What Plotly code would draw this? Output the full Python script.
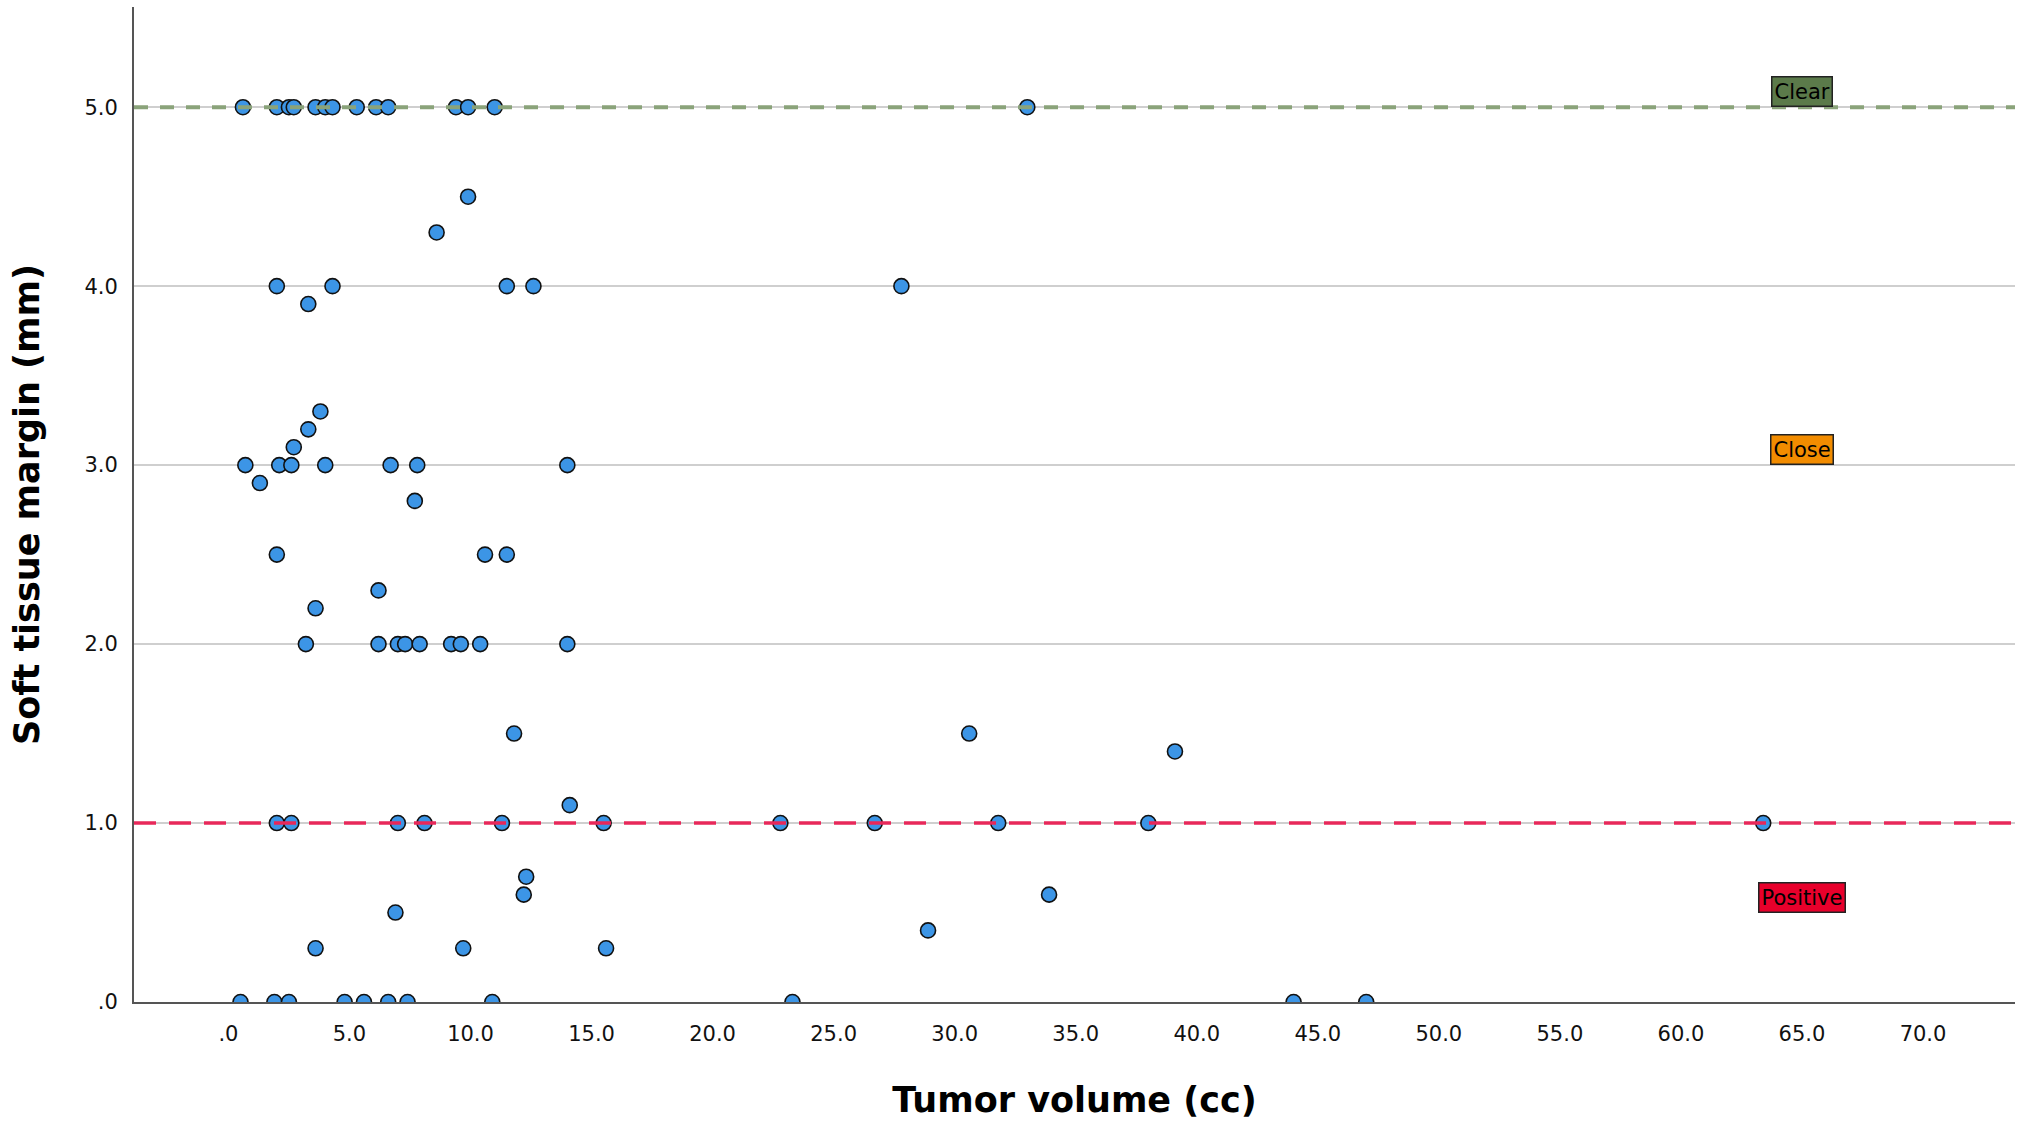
import plotly.graph_objects as go

# ---- data ----
tumor_volume = [
    0.6, 2.0, 2.5, 2.7, 3.6, 4.0, 4.3, 5.3, 6.1, 6.6, 9.4, 9.9, 11.0, 33.0,   # 5.0
    9.9,                                                                      # 4.5
    8.6,                                                                      # 4.3
    2.0, 4.3, 11.5, 12.6, 27.8,                                               # 4.0
    3.3,                                                                      # 3.9
    3.8,                                                                      # 3.3
    3.3,                                                                      # 3.2
    2.7,                                                                      # 3.1
    0.7, 2.1, 2.6, 4.0, 6.7, 7.8, 14.0,                                       # 3.0
    1.3,                                                                      # 2.9
    7.7,                                                                      # 2.8
    2.0, 10.6, 11.5,                                                          # 2.5
    6.2,                                                                      # 2.3
    3.6,                                                                      # 2.2
    3.2, 6.2, 7.0, 7.3, 7.9, 9.2, 9.6, 10.4, 14.0,                            # 2.0
    11.8, 30.6,                                                               # 1.5
    39.1,                                                                     # 1.4
    14.1,                                                                     # 1.1
    2.0, 2.6, 7.0, 8.1, 11.3, 15.5, 22.8, 26.7, 31.8, 38.0, 63.4,             # 1.0
    12.3,                                                                     # 0.7
    12.2, 33.9,                                                               # 0.6
    6.9,                                                                      # 0.5
    28.9,                                                                     # 0.4
    3.6, 9.7, 15.6,                                                           # 0.3
    0.5, 1.9, 2.5, 4.8, 5.6, 6.6, 7.4, 10.9, 23.3, 44.0, 47.0,                # 0.0
]
soft_tissue_margin = (
    [5.0] * 14 + [4.5] + [4.3] + [4.0] * 5 + [3.9] + [3.3] + [3.2] + [3.1]
    + [3.0] * 7 + [2.9] + [2.8] + [2.5] * 3 + [2.3] + [2.2] + [2.0] * 9
    + [1.5] * 2 + [1.4] + [1.1] + [1.0] * 11 + [0.7] + [0.6] * 2 + [0.5]
    + [0.4] + [0.3] * 3 + [0.0] * 11
)

x_tick_vals = [0, 5, 10, 15, 20, 25, 30, 35, 40, 45, 50, 55, 60, 65, 70]
x_tick_text = [".0", "5.0", "10.0", "15.0", "20.0", "25.0", "30.0", "35.0",
               "40.0", "45.0", "50.0", "55.0", "60.0", "65.0", "70.0"]
y_tick_vals = [0, 1, 2, 3, 4, 5]
y_tick_text = [".0", "1.0", "2.0", "3.0", "4.0", "5.0"]

clear_cut = 5.0
positive_cut = 1.0
zone_labels = ["Clear", "Close", "Positive"]
zone_label_y = [5.0, 3.0, 0.5]
zone_label_x = 65.0
zone_colors = ["#5b7a4a", "#f28c00", "#e8002b"]

FONT = "DejaVu Sans"

fig = go.Figure()
fig.add_trace(go.Scatter(
    x=tumor_volume, y=soft_tissue_margin, mode="markers",
    marker=dict(size=15, color="#3c95e6", line=dict(color="#111111", width=1.6)),
    showlegend=False, cliponaxis=True,
))

shapes = [
    dict(type="line", xref="paper", x0=0, x1=1, yref="y", y0=clear_cut, y1=clear_cut,
         line=dict(color="#8aa37a", width=4, dash="14px,12px"), layer="above"),
    dict(type="line", xref="paper", x0=0, x1=1, yref="y", y0=positive_cut, y1=positive_cut,
         line=dict(color="#e8285a", width=3.5, dash="22px,13px"), layer="above"),
]

annotations = []
for lab, yy, col in zip(zone_labels, zone_label_y, zone_colors):
    annotations.append(dict(
        x=zone_label_x, y=yy, xref="x", yref="y", text=lab, showarrow=False,
        xanchor="center", yanchor="bottom",
        font=dict(family=FONT, size=21, color="#000000"),
        bgcolor=col, bordercolor="#222222", borderwidth=1.5, borderpad=2,
    ))

fig.update_layout(
    width=2026, height=1133,
    margin=dict(l=134, r=11, t=7, b=131),
    paper_bgcolor="white", plot_bgcolor="white",
    font=dict(family=FONT, color="#111111"),
    shapes=shapes, annotations=annotations,
    xaxis=dict(
        range=[-3.9, 73.8], tickvals=x_tick_vals, ticktext=x_tick_text,
        showgrid=False, zeroline=False, showline=True, linecolor="#555555", linewidth=2,
        ticks="outside", ticklen=12, tickcolor="rgba(0,0,0,0)",
        tickfont=dict(family=FONT, size=21, color="#111111"),
        title=dict(text="<b>Tumor volume (cc)</b>", font=dict(family=FONT, size=35, color="#000000"),
                   standoff=42),
    ),
    yaxis=dict(
        range=[0, 5.56], tickvals=y_tick_vals, ticktext=y_tick_text,
        showgrid=True, gridcolor="#cfcfcf", gridwidth=2, zeroline=False,
        showline=True, linecolor="#555555", linewidth=2,
        ticks="outside", ticklen=10, tickcolor="rgba(0,0,0,0)",
        tickfont=dict(family=FONT, size=21, color="#111111"),
        title=dict(text="<b>Soft tissue margin (mm)</b>", font=dict(family=FONT, size=35, color="#000000"),
                   standoff=34),
    ),
)

fig.write_html("out.html", config={"displayModeBar": False},
               post_script="document.body.style.margin='0';document.body.style.overflow='hidden';")
